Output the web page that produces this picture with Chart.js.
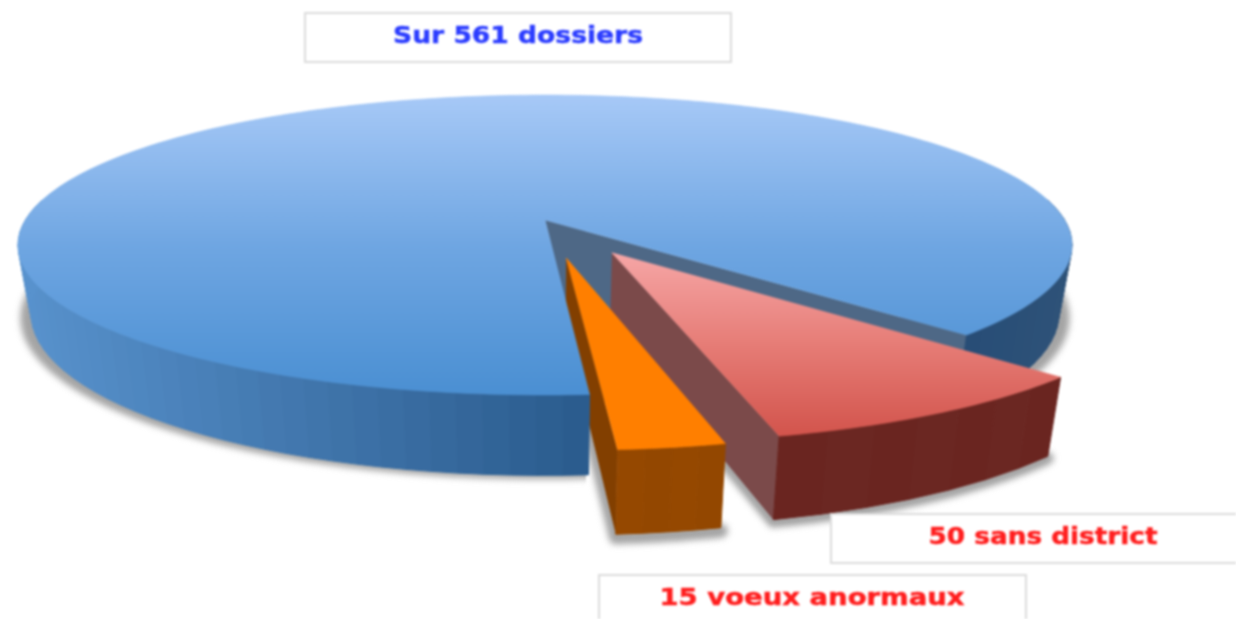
<!DOCTYPE html>
<html><head><meta charset="utf-8">
<style>html,body{margin:0;padding:0;background:#fff;overflow:hidden}canvas{display:block;filter:blur(0.9px)}</style>
<script src="https://cdn.jsdelivr.net/npm/chart.js@4"></script>
</head><body>
<canvas id="c" width="1236" height="619"></canvas>
<script>
const categories = ['Autres dossiers', '50 sans district', '15 voeux anormaux'];
const values = [496, 50, 15];
const titleText = 'Sur 561 dossiers';
const labelTexts = ['50 sans district', '15 voeux anormaux'];
const sliceColors = ['#6fa6e2', '#e0706a', '#ff7f00'];

// projection of the unit disc (perspective view of a tilted pie)
const view = {cx:545, cy:220, a:519.6, b:145.8, k:0.1667, depth:67, shrink:0.025};
const explode = [0, 0.25, 0.253];
const P = (x, y, z=0) => {
  const w = 1 - view.k*y;
  return [view.cx + view.a*x/w*(1 - z*view.shrink), view.cy + view.b*y/w + z*view.depth/w];
};
const mix = (c1, c2, t) => {
  t = Math.max(0, Math.min(1, t));
  return 'rgb(' + c1.map((v,i) => Math.round(v + (c2[i]-v)*t)).join(',') + ')';
};
function poly(ctx, pts){ ctx.beginPath(); pts.forEach((p,i)=> i?ctx.lineTo(p[0],p[1]):ctx.moveTo(p[0],p[1])); ctx.closePath(); }
function rimPts(arc, ox, oy, z, stepDeg=1){
  const pts=[], n=Math.ceil((arc.endAngle-arc.startAngle)/(stepDeg*Math.PI/180));
  for(let i=0;i<=n;i++){ const t=arc.startAngle+(arc.endAngle-arc.startAngle)*i/n; pts.push(P(ox+Math.cos(t),oy+Math.sin(t),z)); }
  return pts;
}
function wall(ctx, arc, ox, oy, colorAt, stepDeg){
  const n=Math.ceil((arc.endAngle-arc.startAngle)/(stepDeg*Math.PI/180));
  for(let i=0;i<n;i++){
    const t0=arc.startAngle+(arc.endAngle-arc.startAngle)*i/n, t1=arc.startAngle+(arc.endAngle-arc.startAngle)*(i+1)/n;
    if(Math.sin(t0)<-0.1 && Math.sin(t1)<-0.1) continue;
    const q=[P(ox+Math.cos(t0),oy+Math.sin(t0),0),P(ox+Math.cos(t1),oy+Math.sin(t1),0),P(ox+Math.cos(t1),oy+Math.sin(t1),1),P(ox+Math.cos(t0),oy+Math.sin(t0),1)];
    const col=colorAt(q[0][0],i);
    ctx.fillStyle=col; ctx.strokeStyle=col; ctx.lineWidth=1;
    poly(ctx,q); ctx.fill(); ctx.stroke();
  }
}
function shadow(ctx, pts, thick, scaleX, dy){
  ctx.save();
  ctx.filter='blur(3px)';
  ctx.fillStyle='#a4a4a4'; ctx.strokeStyle='#a4a4a4'; ctx.lineWidth=thick; ctx.lineJoin='round';
  ctx.translate(view.cx,dy); ctx.scale(scaleX,1); ctx.translate(-view.cx,0);
  poly(ctx,pts); ctx.fill(); if(thick) ctx.stroke();
  ctx.restore();
}
function topFace(ctx, pts, y0, y1, stops){
  const g=ctx.createLinearGradient(0,y0,0,y1);
  stops.forEach(s=>g.addColorStop(s[0],s[1]));
  ctx.fillStyle=g; ctx.strokeStyle=g; ctx.lineWidth=0.6; poly(ctx,pts); ctx.fill(); ctx.stroke();
}
function box(ctx, x, y, w, h, text, color){
  ctx.save();
  ctx.fillStyle='#fff'; ctx.strokeStyle='#dcdcdc'; ctx.lineWidth=2;
  ctx.fillRect(x,y,w,h); ctx.strokeRect(x,y,w,h);
  ctx.fillStyle=color; ctx.strokeStyle=color; ctx.lineWidth=0.5;
  ctx.font='bold 23.5px "DejaVu Sans"'; ctx.textAlign='center'; ctx.textBaseline='middle';
  const sx=text.w/ctx.measureText(text.t).width;
  ctx.translate(text.x,text.y); ctx.scale(sx,1);
  ctx.fillText(text.t,0,0); ctx.strokeText(text.t,0,0);
  ctx.restore();
}
const pie3d = {
  id:'pie3d',
  beforeDatasetsDraw(chart){
    const ctx=chart.ctx, arcs=chart.getDatasetMeta(0).data;
    const off=arcs.map((a,i)=>{const m=(a.startAngle+a.endAngle)/2; return [explode[i]*Math.cos(m),explode[i]*Math.sin(m)];});
    ctx.save();
    const main=arcs[0], red=arcs[1], org=arcs[2];
    const [rx,ry]=off[1], [ox,oy]=off[2];
    // --- shadow of the large slice (both sides of the gap) ---
    ctx.save();
    ctx.beginPath(); ctx.rect(0,0,586,619); ctx.rect(900,0,336,619); ctx.clip();
    shadow(ctx, rimPts(main,0,0,1), 0, 1.021, 4);
    ctx.restore();
    // --- cut face of the large slice ---
    const eTop=P(Math.cos(main.endAngle),Math.sin(main.endAngle),0);
    const eBot=P(Math.cos(main.endAngle),Math.sin(main.endAngle),1);
    const sTop=P(Math.cos(main.startAngle),Math.sin(main.startAngle),0);
    ctx.fillStyle='#4e6886';
    poly(ctx,[P(0,0,0),eTop,eBot,[sTop[0],sTop[1]+6]]); ctx.fill();
    // --- cut face of the orange slice sits behind the large slice's top ---
    const os=P(ox+Math.cos(org.endAngle),oy+Math.sin(org.endAngle),0), ob=P(ox+Math.cos(org.endAngle),oy+Math.sin(org.endAngle),1);
    shadow(ctx,[P(ox,oy,1),ob,...rimPts(org,ox,oy,1)],14,1,3);
    ctx.fillStyle='#823f00';
    poly(ctx,[P(ox,oy,0),os,ob,P(ox,oy,1)]); ctx.fill();
    // --- large slice ---
    wall(ctx,main,0,0,(x)=> x>800 ? mix([38,76,118],[46,82,120],(x-960)/110)
                                  : mix([88,146,205],[43,92,142],(x-20)/570),2.5);
    const mainTop=[P(0,0,0),...rimPts(main,0,0,0)];
    topFace(ctx,mainTop,95,396,[[0,'#a7c9f7'],[0.5,'#6fa6e2'],[1,'#4a8fd2']]);
    // --- red slice ---
    shadow(ctx,[P(rx,ry,1),...rimPts(red,rx,ry,1)],12,1,2);
    const rs=P(rx+Math.cos(red.endAngle),ry+Math.sin(red.endAngle),0), rb=P(rx+Math.cos(red.endAngle),ry+Math.sin(red.endAngle),1);
    ctx.fillStyle='#7b4a4a';
    poly(ctx,[P(rx,ry,0),rs,rb,P(rx,ry,1)]); ctx.fill();
    wall(ctx,red,rx,ry,(x,i)=> i%2? '#6b2722':'#6a2520',5);
    topFace(ctx,[P(rx,ry,0),...rimPts(red,rx,ry,0)],253,438,[[0,'#f6a6a6'],[0.5,'#e67c76'],[1,'#d2534b']]);
    // --- orange slice ---
    wall(ctx,org,ox,oy,(x,i)=> i%2? '#954800':'#934700',2.5);
    topFace(ctx,[P(ox,oy,0),...rimPts(org,ox,oy,0)],258,453,[[0,sliceColors[2]],[1,sliceColors[2]]]);
    ctx.restore();
    // --- text boxes ---
    box(ctx,305,13,426,49,{t:titleText,x:518,y:37,w:250},'#2b3cff');
    box(ctx,831,514,420,49,{t:labelTexts[0],x:1043,y:538,w:229},'#ff1e1e');
    box(ctx,599,575,427,60,{t:labelTexts[1],x:812,y:599,w:305},'#ff1e1e');
    return false;
  }
};
new Chart(document.getElementById('c'),{
  type:'pie',
  data:{labels:categories,datasets:[{data:values,backgroundColor:sliceColors,borderWidth:0}]},
  options:{responsive:false,animation:false,rotation:175.9,
    plugins:{legend:{display:false},tooltip:{enabled:false}}},
  plugins:[pie3d]
});
</script>
</body></html>
